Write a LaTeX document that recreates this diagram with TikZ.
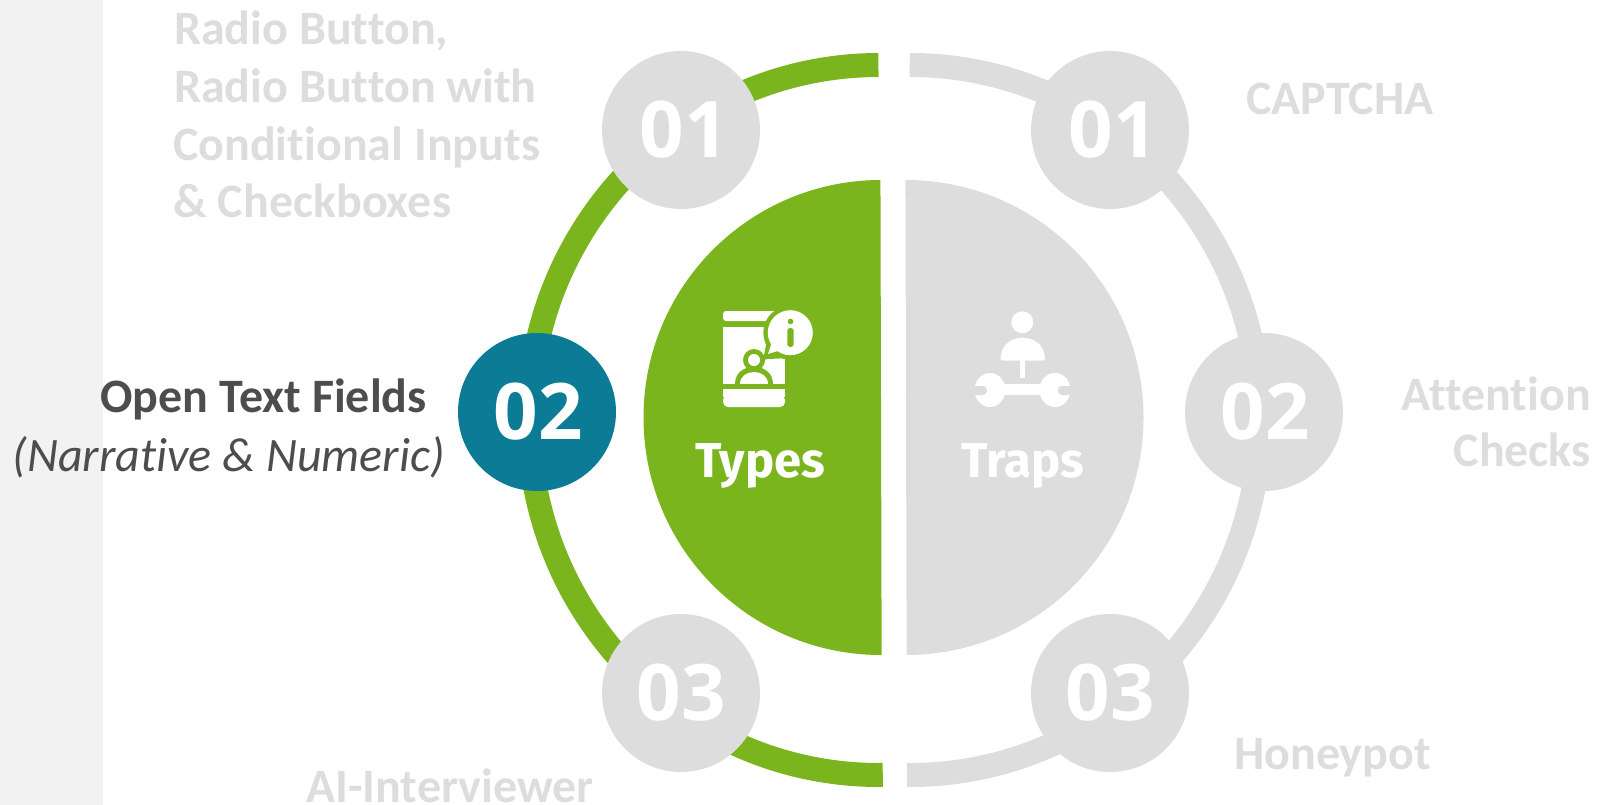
\documentclass[tikz,border=0pt]{standalone}
\usepackage{fontspec}
\setmainfont[Ligatures=NoCommon]{Carlito}
\newfontfamily\numfont{Open Sans}
\newfontfamily\headfont{Fira Sans}
\definecolor{grn}{HTML}{7AB51D}
\definecolor{lgr}{HTML}{DDDDDD}
\definecolor{teal}{HTML}{0C7C96}
\definecolor{strip}{HTML}{F2F2F2}
\definecolor{dark}{HTML}{4D4D4D}
\newcommand{\fsz}[1]{\fontsize{#1}{#1}\selectfont}
\newcommand{\numtxt}[2][0pt]{\hspace*{#1}\raisebox{-2pt}{#2}}
\tikzset{
 num/.style={circle,minimum size=158pt,inner sep=0pt,fill=lgr,text=white,font=\numfont\bfseries\fsz{78}},
 lab/.style={inner sep=0pt,text=lgr,font=\bfseries\fsz{48}},
 head/.style={inner sep=0pt,text=white,font=\headfont\bfseries\fsz{49}},
 ringg/.style={line width=24pt,draw=grn},
 ringl/.style={line width=24pt,draw=lgr}
}
\begin{document}
\begin{tikzpicture}[x=1pt,y=-1pt]
\useasboundingbox (0,0) rectangle (1608,805);
\fill[strip] (0,0) rectangle (103,805);
% rings
\begin{scope}
\clip (0,-10) -- (878,-10) -- (883,815) -- (0,815) -- cycle;
\draw[ringg] (879,420) ellipse [x radius=350,y radius=355];
\end{scope}
\begin{scope}
\clip (1608,-10) -- (910,-10) -- (907,815) -- (1608,815) -- cycle;
\draw[ringl] (910,420) ellipse [x radius=350,y radius=355];
\end{scope}
% half discs
\begin{scope}
\clip (0,0) -- (880,0) -- (882,805) -- (0,805) -- cycle;
\fill[grn] (881,417.5) circle (237.5);
\end{scope}
\begin{scope}
\clip (1608,0) -- (905,0) -- (907,805) -- (1608,805) -- cycle;
\fill[lgr] (906,417.5) circle (237.5);
\end{scope}
% number circles
\node[num] (a1) at (681,130) {\numtxt[7pt]{01}};
\node[num,fill=teal] (a2) at (537,412) {\numtxt[2pt]{02}};
\node[num] (a3) at (681,693) {\numtxt{03}};
\node[num] (b1) at (1110,130) {\numtxt[7pt]{01}};
\node[num] (b2) at (1264,412) {\numtxt[2pt]{02}};
\node[num] (b3) at (1110,693) {\numtxt{03}};
% labels
\node[lab,anchor=base west] (t1) at (174,45) {Radio Button,};
\node[lab,anchor=base west] (t2) at (174,103) {Radio Button with};
\node[lab,anchor=base west] (t3) at (173,161) {Conditional Inputs};
\node[lab,anchor=base west] (t4) at (173,218) {\& Checkboxes};
\node[lab,anchor=base east,text=dark] (t5) at (427,412) {Open Text Fields};
\node[lab,anchor=base east,text=dark,font=\itshape\fsz{48}] (t6) at (445,471) {(Narrative \& Numeric)};
\node[lab,anchor=base west] (t7) at (1246,115) {CAPTCHA};
\node[lab,anchor=base east] (t8) at (1591,410) {Attention};
\node[lab,anchor=base east] (t9) at (1591,466) {Checks};
\node[lab,anchor=base west] (t10) at (1234,769) {Honeypot};
\node[lab,anchor=base west] (t11) at (306,802) {AI-Interviewer};
\node[head] (h1) at (760,466) {Types};
\node[head] (h2) at (1023,466) {Traps};
% phone icon
\fill[white,rounded corners=3pt] (723,321) -- (723,311) -- (780,311) -- (780,321) -- cycle;
\fill[white] (723,327) rectangle (785,384);
\fill[white,rounded corners=5pt] (723,395) -- (723,407) -- (785,407) -- (785,395) -- cycle;
\fill[white] (723,389) rectangle (785,397);
\fill[grn] (790.3,332.7) circle (27);
\fill[grn] (767,340) -- (763,360) -- (768,359) -- (790,358) -- cycle;
\fill[grn] (754,360) circle (11);
\fill[grn] (735,384) .. controls (735,361) and (773,361) .. (773,384) -- cycle;
\fill[white] (754,360) circle (6);
\fill[white] (740,384) .. controls (740,368) and (768,368) .. (768,384) -- cycle;
\fill[white] (790.3,332.7) circle (22.5);
\fill[white] (772,342) -- (768,354) -- (784,349) -- cycle;
\fill[grn] (790.5,321.5) circle (2.8);
\fill[grn,rounded corners=2.8pt] (787.3,328) rectangle (793.7,347);
% wrench icon
\fill[white] (1022.3,322.3) circle (11);
\fill[white,rounded corners=3pt] (1000.7,360.7) -- (1000.7,358) .. controls (1004,332) and (1041,332) .. (1045,358) -- (1045,360.7) -- cycle;
\fill[white] (1019.7,359) rectangle (1025.3,378);
\fill[white] (990,384) rectangle (1055,395);
\fill[white] (990,390) ellipse [x radius=15.5,y radius=17];
\fill[white] (1055,390) ellipse [x radius=15.5,y radius=17];
\fill[lgr,rounded corners=4pt] (970,386) rectangle (987,395);
\fill[lgr,rounded corners=4pt] (1058,386) rectangle (1075,395);
\end{tikzpicture}
\end{document}
